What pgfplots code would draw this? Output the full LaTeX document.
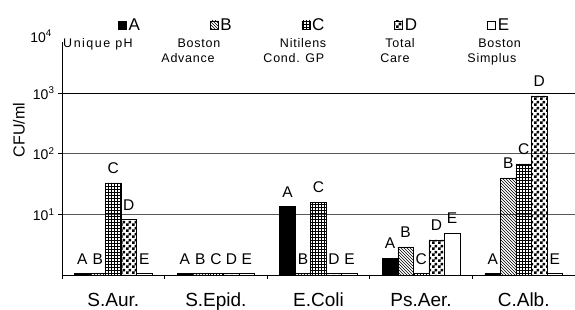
\documentclass[border=0pt]{standalone}
\usepackage{pgfplots}
\pgfplotsset{compat=1.18}
\usepackage{fontspec}
\setmainfont{Liberation Sans}
\usetikzlibrary{patterns}
\pgfdeclarepatternformonly{mycheck}{\pgfpointorigin}{\pgfqpoint{6pt}{6pt}}{\pgfqpoint{6pt}{6pt}}{%
  \pgfpathrectangle{\pgfpointorigin}{\pgfqpoint{3pt}{3pt}}%
  \pgfpathrectangle{\pgfqpoint{3pt}{3pt}}{\pgfqpoint{3pt}{3pt}}%
  \pgfusepath{fill}}
\begin{document}
\begin{tikzpicture}
\path[use as bounding box] (-62pt,-34pt) rectangle (513pt,275pt);
\begin{axis}[
  at={(0pt,0pt)}, anchor=south west,
  scale only axis, width=513pt, height=233pt,
  clip=false,
  ymode=log, ymin=1, ymax=7000,
  xmin=-0.5, xmax=4.5,
  axis x line=bottom, axis y line=left,
  axis line style={-, black, line width=0.8pt},
  ybar=0pt, bar width=0.151,
  tick align=outside, major tick length=4pt,
  tick style={black, line width=0.8pt},
  yminorticks=false,
  xtick={-0.5,0.5,1.5,2.5,3.5},
  xticklabels={},
  extra x ticks={0,1,2,3,4},
  extra x tick labels={S.Aur.,S.Epid.,E.Coli,Ps.Aer.,C.Alb.},
  extra x tick style={major tick length=0pt},
  xticklabel style={font=\fontsize{19}{19}\selectfont, anchor=base, yshift=-31pt},
  ytick={10,100},
  yticklabels={10\textsuperscript{1},10\textsuperscript{2}},
  ymajorgrids, major grid style={black!65, line width=0.7pt},
  extra y ticks={1000},
  extra y tick labels={10\textsuperscript{3}},
  extra y tick style={ymajorgrids=true, major grid style={black, line width=1.4pt}},
  yticklabel style={font=\fontsize{14}{14}\selectfont},
  ylabel={CFU/ml},
  ylabel style={font=\fontsize{16}{16}\selectfont, at={(rel axis cs:-0.084,0.622)}, anchor=center},
  legend style={at={(rel axis cs:0.103,1.073)}, anchor=west, draw=none, fill=none,
    legend columns=5, font=\fontsize{17}{17}\selectfont,
    /tikz/every even column/.append style={column sep=68pt}},
  mybar/.style={draw=black, line width=0.6pt,
    legend image code/.code={\draw[##1, line width=0.5pt] (0pt,-4pt) rectangle (8pt,4pt);}},
  every node near coord/.append style={font=\fontsize{15.5}{15.5}\selectfont, anchor=south, inner sep=0pt, yshift=9pt, black},
]
\addplot[mybar, fill=black, nodes near coords={A}] coordinates {(0,1.05) (1,1.05) (2,13.5) (3,1.9) (4,1.05)};
\addplot[mybar, pattern=north west lines, nodes near coords={B}] coordinates {(0,1.05) (1,1.05) (2,1.05) (3,2.9) (4,40)};
\addplot[mybar, pattern=grid, nodes near coords={C}] coordinates {(0,33) (1,1.05) (2,16) (3,1.05) (4,68)};
\addplot[mybar, pattern=mycheck, nodes near coords={D}] coordinates {(0,8.2) (1,1.05) (2,1.05) (3,3.8) (4,900)};
\addplot[mybar, fill=white, nodes near coords={E}] coordinates {(0,1.05) (1,1.05) (2,1.05) (3,4.9) (4,1.05)};
\legend{A,B,C,D,E}
\node[anchor=base east, font=\fontsize{14}{14}\selectfont, inner sep=0pt] at (rel axis cs:0,1) [xshift=-10pt] {10\textsuperscript{4}};
\begin{scope}[font=\fontsize{12.5}{12.5}\selectfont\addfontfeatures{LetterSpace=6}, inner sep=0pt]
\node[anchor=base west] at (rel axis cs:0.002,0.9785) {\addfontfeatures{LetterSpace=12}Unique pH};
\node[anchor=base] at (rel axis cs:0.267,0.9785) {Boston};
\node[anchor=base] at (rel axis cs:0.2456,0.910) {Advance};
\node[anchor=base] at (rel axis cs:0.470,0.9785) {Nitilens};
\node[anchor=base] at (rel axis cs:0.452,0.910) {Cond. GP};
\node[anchor=base] at (rel axis cs:0.659,0.9785) {Total};
\node[anchor=base] at (rel axis cs:0.649,0.910) {Care};
\node[anchor=base] at (rel axis cs:0.853,0.9785) {Boston};
\node[anchor=base] at (rel axis cs:0.838,0.910) {Simplus};
\end{scope}
\end{axis}
\end{tikzpicture}
\end{document}
